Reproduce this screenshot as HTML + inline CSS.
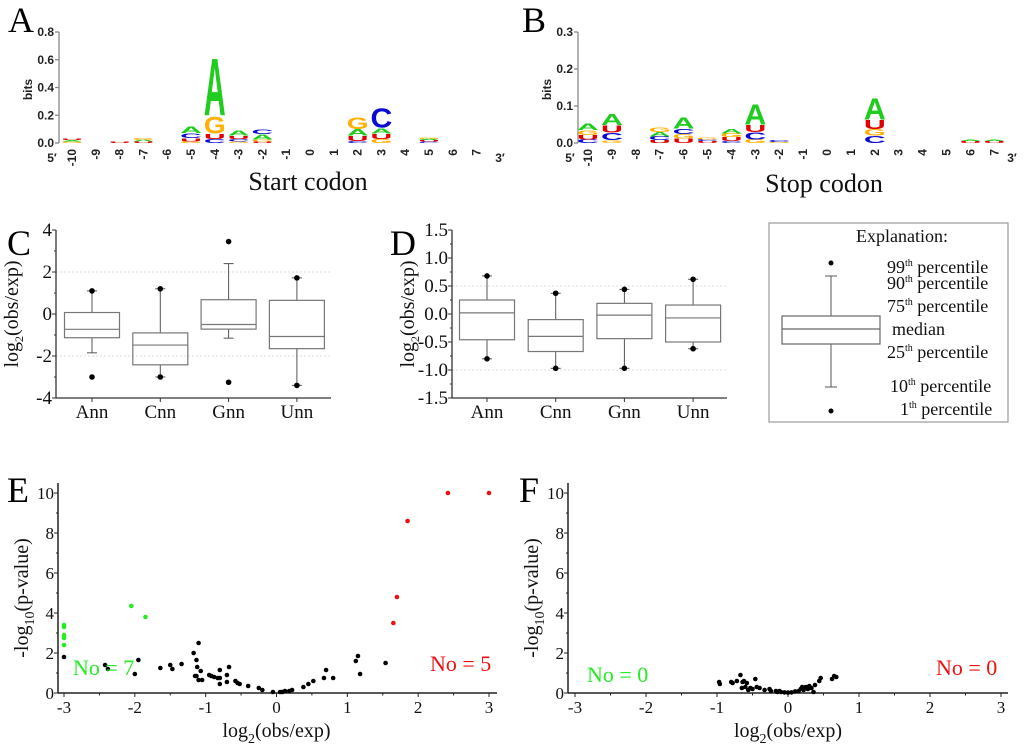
<!DOCTYPE html>
<html><head><meta charset="utf-8"><style>
html,body{margin:0;padding:0;background:#fff;}
svg{display:block;}
.serif{font-family:"Liberation Serif",serif;}
.sans{font-family:"Liberation Sans",sans-serif;}
</style></head><body>
<svg id="fig" xmlns="http://www.w3.org/2000/svg" width="1024" height="756" viewBox="0 0 1024 756"></svg>
<script>
// ---------- DATA ----------
const logoPositions = [-10,-9,-8,-7,-6,-5,-4,-3,-2,-1,0,1,2,3,4,5,6,7];
const startStacks = {
  "-10":[["G",0.01],["A",0.01],["U",0.008]],
  "-8":[["U",0.008]],
  "-7":[["U",0.01],["A",0.012],["G",0.012]],
  "-5":[["G",0.012],["U",0.025],["C",0.035],["A",0.045]],
  "-4":[["C",0.03],["U",0.04],["G",0.13],["A",0.42]],
  "-3":[["G",0.01],["C",0.02],["U",0.025],["A",0.04]],
  "-2":[["U",0.01],["G",0.015],["A",0.04],["C",0.035]],
  "2":[["C",0.015],["U",0.04],["A",0.045],["G",0.09]],
  "3":[["G",0.03],["U",0.04],["A",0.04],["C",0.15]],
  "5":[["C",0.01],["U",0.01],["A",0.01],["G",0.01]]
};
const stopStacks = {
  "-10":[["C",0.01],["U",0.012],["G",0.013],["A",0.018]],
  "-9":[["G",0.008],["C",0.02],["U",0.02],["A",0.03]],
  "-7":[["U",0.008],["C",0.01],["A",0.012],["G",0.012]],
  "-6":[["U",0.012],["G",0.012],["C",0.015],["A",0.03]],
  "-5":[["U",0.005],["C",0.005],["G",0.005]],
  "-4":[["C",0.006],["U",0.01],["G",0.01],["A",0.012]],
  "-3":[["G",0.01],["C",0.02],["U",0.02],["A",0.055]],
  "-2":[["G",0.003],["C",0.005]],
  "2":[["C",0.02],["G",0.018],["U",0.025],["A",0.06]],
  "6":[["U",0.005],["A",0.004]],
  "7":[["U",0.005],["A",0.004]]
};
const startTicks = [0.0,0.2,0.4,0.6,0.8];
const stopTicks = [0.0,0.1,0.2,0.3];

const boxCategories = ["Ann","Cnn","Gnn","Unn"];
// [p1, p10, q1, median, q3, p90, p99]
const boxC = [
  [-3.0,-1.85,-1.13,-0.73,0.07,1.1,1.1],
  [-3.0,-3.0,-2.42,-1.48,-0.9,1.2,1.2],
  [-3.25,-1.15,-0.72,-0.5,0.68,2.4,3.45],
  [-3.4,-3.4,-1.65,-1.07,0.65,1.72,1.72]
];
const boxD = [
  [-0.8,-0.8,-0.46,0.02,0.25,0.68,0.68],
  [-0.97,-0.97,-0.67,-0.4,-0.1,0.37,0.37],
  [-0.97,-0.97,-0.44,-0.02,0.19,0.44,0.44],
  [-0.62,-0.62,-0.5,-0.07,0.16,0.62,0.62]
];
const ticksC = [-4,-2,0,2,4];
const ticksD = [-1.5,-1.0,-0.5,0.0,0.5,1.0,1.5];

const eGreenX=[-3,-3,-3,-3,-3,-2.05,-1.85];
const eGreenY=[3.4,3.3,2.9,2.75,2.4,4.35,3.8];
const eRedX=[1.65,1.7,1.85,2.42,3];
const eRedY=[3.5,4.8,8.6,10,10];
const eBlackX=[-3,-2.42,-2.38,-2.0,-1.95,-1.64,-1.5,-1.47,-1.34,-1.17,-1.15,-1.13,-1.13,-1.12,-1.1,-1.1,-1.07,-1.05,-0.95,-0.92,-0.88,-0.83,-0.8,-0.8,-0.8,-0.7,-0.7,-0.67,-0.58,-0.55,-0.52,-0.4,-0.25,-0.2,-0.05,0.05,0.08,0.12,0.18,0.22,0.38,0.45,0.52,0.67,0.7,0.8,1.12,1.15,1.18,1.54];
const eBlackY=[1.8,1.4,1.2,0.95,1.65,1.25,1.4,1.2,1.45,2.0,0.85,0.85,1.65,1.3,2.5,0.65,1.1,0.65,0.9,0.85,0.8,0.75,1.15,0.75,0.45,0.55,0.9,1.3,0.6,0.5,0.45,0.35,0.25,0.15,0.05,0.05,0.05,0.1,0.1,0.15,0.3,0.45,0.6,0.75,1.15,0.75,1.6,1.85,0.95,1.5];
const fBlackX=[-0.97,-0.96,-0.8,-0.78,-0.72,-0.67,-0.65,-0.64,-0.62,-0.6,-0.58,-0.56,-0.53,-0.5,-0.46,-0.44,-0.4,-0.33,-0.26,-0.24,-0.17,-0.15,-0.12,-0.1,-0.05,0,0.05,0.1,0.15,0.18,0.2,0.22,0.25,0.28,0.3,0.33,0.36,0.38,0.44,0.46,0.62,0.65,0.68];
const fBlackY=[0.55,0.45,0.55,0.5,0.6,0.9,0.25,0.55,0.6,0.3,0.5,0.15,0.25,0.2,0.7,0.3,0.25,0.15,0.2,0.1,0.1,0.05,0.1,0.05,0.03,0.02,0.03,0.08,0.1,0.2,0.3,0.15,0.3,0.2,0.35,0.25,0.05,0.4,0.6,0.75,0.7,0.85,0.8];
const scatXTicks=[-3,-2,-1,0,1,2,3];
const scatYTicks=[0,2,4,6,8,10];

// ---------- HELPERS ----------
const NS="http://www.w3.org/2000/svg";
const svg=document.getElementById('fig');
function mk(tag,attrs,parent){const e=document.createElementNS(NS,tag);for(const k in attrs)e.setAttribute(k,attrs[k]);(parent||svg).appendChild(e);return e;}
function txt(s,attrs,parent){const e=mk('text',attrs,parent);e.textContent=s;return e;}
const colors={A:"#1fcc1f",C:"#0a0ad0",G:"#ffb000",U:"#e00000"};
const adv={A:72.2,C:72.2,G:77.8,U:72.2};
const capH={A:71.6,C:74,G:74,U:72.5};

function logo(name,x0,step,y0,pxPerBit,stacks,ticks,axisX,axisTopY,lbl5x,lbl3x){
  const g=mk('g',{});
  
  
  const xs=p=>x0+(p-logoPositions[0])*step;
  const ys=b=>y0-b*pxPerBit;
  const ax=mk('line',{x1:axisX,y1:ys(ticks[ticks.length-1]),x2:axisX,y2:y0,stroke:"#888","stroke-width":1.3},g);
  
  
  ticks.forEach(t=>{
    mk('line',{x1:axisX-4,y1:ys(t),x2:axisX,y2:ys(t),stroke:"#888","stroke-width":1.3},g);
    const tl=txt(t.toFixed(1),{x:axisX-5,y:ys(t)+4,"text-anchor":"end","font-size":12,"font-weight":"bold",class:"sans",fill:"#222"},g);
    
    
  });
  logoPositions.forEach(p=>{
    const x=xs(p);
    const t=txt(String(p),{transform:`translate(${x+4},149) rotate(-90)`,"text-anchor":"end","font-size":12,"font-weight":"bold",class:"sans",fill:"#222"},g);
    
    
    const st=stacks[String(p)];
    if(!st)return;
    let cum=0;
    st.forEach(([ch,b])=>{
      const yb=ys(cum), h=b*pxPerBit, w=step-2;
      cum+=b;
      const l=txt(ch,{transform:`translate(${x},${yb}) scale(${w/adv[ch]},${h/capH[ch]})`,"text-anchor":"middle","font-size":100,"font-weight":"bold",class:"sans",fill:colors[ch]},g);
      
      
    });
  });
  txt("5\u2032",{x:lbl5x,y:162,"text-anchor":"middle","font-size":12,"font-weight":"bold",class:"sans",fill:"#222"},g);
  txt("3\u2032",{x:lbl3x,y:162,"text-anchor":"middle","font-size":12,"font-weight":"bold",class:"sans",fill:"#222"},g);
  const bl=txt("bits",{transform:`translate(${axisX-27},${(y0+axisTopY)/2+2}) rotate(-90)`,"text-anchor":"middle","font-size":12,"font-weight":"bold",class:"sans",fill:"#222"},g);
  
  
}

function boxplot(name,axisX,axisEndX,yTop,yBot,vmin,vmax,ticks,cat0,catStep,data,grids,fmt){
  const g=mk('g',{});
  
  
  const ys=v=>yBot-(v-vmin)/(vmax-vmin)*(yBot-yTop);
  grids.forEach(v=>mk('line',{x1:axisX,y1:ys(v),x2:axisEndX,y2:ys(v),stroke:"#ddd","stroke-dasharray":"2,2","stroke-width":1},g));
  mk('line',{x1:axisX,y1:yTop,x2:axisX,y2:yBot,stroke:"#333","stroke-width":1.3},g);
  mk('line',{x1:axisX,y1:yBot,x2:axisEndX,y2:yBot,stroke:"#333","stroke-width":1.3},g);
  ticks.forEach((t,i)=>{
    mk('line',{x1:axisX-4,y1:ys(t),x2:axisX,y2:ys(t),stroke:"#333"},g);
    if(i<ticks.length-1){const m=(t+ticks[i+1])/2;mk('line',{x1:axisX-2,y1:ys(m),x2:axisX,y2:ys(m),stroke:"#333"},g);}
    const tl=txt(fmt(t),{x:axisX-4,y:ys(t)+6,"text-anchor":"end","font-size":19,class:"serif",fill:"#111"},g);
    
    
  });
  const bw=55;
  data.forEach((d,i)=>{
    const cx=cat0+i*catStep;
    mk('line',{x1:cx,y1:yBot,x2:cx,y2:yBot+4,stroke:"#333"},g);
    const cl=txt(boxCategories[i],{x:cx,y:yBot+20,"text-anchor":"middle","font-size":19,class:"serif",fill:"#111"},g);
    
    
    const bg=mk('g',{},g);
    
    
    mk('line',{x1:cx,y1:ys(d[5]),x2:cx,y2:ys(d[4]),stroke:"#555"},bg);
    mk('line',{x1:cx,y1:ys(d[2]),x2:cx,y2:ys(d[1]),stroke:"#555"},bg);
    mk('line',{x1:cx-5,y1:ys(d[5]),x2:cx+5,y2:ys(d[5]),stroke:"#555"},bg);
    mk('line',{x1:cx-5,y1:ys(d[1]),x2:cx+5,y2:ys(d[1]),stroke:"#555"},bg);
    mk('rect',{x:cx-bw/2,y:ys(d[4]),width:bw,height:ys(d[2])-ys(d[4]),fill:"none",stroke:"#777","stroke-width":1.2},bg);
    mk('line',{x1:cx-bw/2,y1:ys(d[3]),x2:cx+bw/2,y2:ys(d[3]),stroke:"#777","stroke-width":1.2},bg);
    mk('circle',{cx:cx,cy:ys(d[0]),r:2.8,fill:"#000"},bg);
    mk('circle',{cx:cx,cy:ys(d[6]),r:2.8,fill:"#000"},bg);
  });
  const yl=txt("",{transform:`translate(${axisX-38},${(yTop+yBot)/2}) rotate(-90)`,"text-anchor":"middle","font-size":20,class:"serif",fill:"#111"},g);
  yl.innerHTML='log<tspan font-size="12" dy="5">2</tspan><tspan dy="-5">(obs/exp)</tspan>';
  
  
}

function scatter(name,axisX,xm3,xp3,axisEndX,y0,y10,series){
  const g=mk('g',{});
  
  
  const xs=v=>xm3+(v+3)/6*(xp3-xm3);
  const ys=v=>y0-v/10*(y0-y10);
  mk('line',{x1:axisX,y1:483,x2:axisX,y2:y0,stroke:"#222","stroke-width":1.5},g);
  mk('line',{x1:axisX,y1:y0,x2:axisEndX,y2:y0,stroke:"#222","stroke-width":1.5},g);
  scatYTicks.forEach((t,i)=>{
    mk('line',{x1:axisX-4,y1:ys(t),x2:axisX,y2:ys(t),stroke:"#222"},g);
    if(i<scatYTicks.length-1)mk('line',{x1:axisX-2,y1:ys(t+1),x2:axisX,y2:ys(t+1),stroke:"#222"},g);
    const tl=txt(String(t),{x:axisX-4,y:ys(t)+6,"text-anchor":"end","font-size":17,class:"serif",fill:"#111"},g);
    
    
  });
  scatXTicks.forEach((t,i)=>{
    mk('line',{x1:xs(t),y1:y0,x2:xs(t),y2:y0+4,stroke:"#222"},g);
    if(i<scatXTicks.length-1)mk('line',{x1:xs(t+0.5),y1:y0,x2:xs(t+0.5),y2:y0+2.5,stroke:"#222"},g);
    const tl=txt(String(t),{x:xs(t),y:y0+20,"text-anchor":"middle","font-size":17,class:"serif",fill:"#111"},g);
    
    
  });
  series.forEach(([X,Y,col,sname])=>{
    const sg=mk('g',{},g);
    
    
    X.forEach((x,i)=>{
      const c=mk('circle',{cx:xs(x),cy:ys(Y[i]),r:2.3,fill:col},sg);
      
      
    });
  });
  const xl=txt("",{x:(xm3+xp3)/2,y:737,"text-anchor":"middle","font-size":20,class:"serif",fill:"#111"},g);
  xl.innerHTML='log<tspan font-size="14" dy="6">2</tspan><tspan dy="-6">(obs/exp)</tspan>';
  
  
  const yl=txt("",{transform:`translate(${axisX-30},${(y0+483)/2+10}) rotate(-90)`,"text-anchor":"middle","font-size":20,class:"serif",fill:"#111"},g);
  yl.innerHTML='-log<tspan font-size="14" dy="6">10</tspan><tspan dy="-6">(p-value)</tspan>';
  
  
}

// ---------- BUILD ----------
function panelLabel(s,x,y){const t=txt(s,{x:x,y:y,"font-size":36,class:"serif",fill:"#000"});}

logo('start-codon-logo',72,23.8,143,138.75,startStacks,startTicks,59,32,52,500);
logo('stop-codon-logo',588,23.9,143,370,stopStacks,stopTicks,578,32,570,1012);
panelLabel("A",8,32);panelLabel("B",522,32);
let t1=txt("Start codon",{x:308,y:190,"text-anchor":"middle","font-size":26,class:"serif",fill:"#111"});

let t2=txt("Stop codon",{x:824,y:192,"text-anchor":"middle","font-size":26,class:"serif",fill:"#111"});


panelLabel("C",7,255);panelLabel("D",390,255);
boxplot('boxplot-c',56,331,230,398,-4,4,ticksC,92,68.3,boxC,[2,-2],t=>String(t));
boxplot('boxplot-d',452,727,230,398,-1.5,1.5,ticksD,487,68.7,boxD,[0.5,-1.0],t=>t.toFixed(1));

(function(){
  const g=mk('g',{});
  
  
  mk('rect',{x:769,y:223,width:239,height:199,fill:"#fff",stroke:"#999","stroke-width":1.2},g);
  txt("Explanation:",{x:902,y:242,"text-anchor":"middle","font-size":18,class:"serif",fill:"#111"},g);
  mk('line',{x1:831,y1:276,x2:831,y2:316,stroke:"#555"},g);
  mk('line',{x1:831,y1:344,x2:831,y2:387,stroke:"#555"},g);
  mk('line',{x1:825,y1:276,x2:837,y2:276,stroke:"#555"},g);
  mk('line',{x1:825,y1:387,x2:837,y2:387,stroke:"#555"},g);
  mk('rect',{x:782,y:316,width:98,height:28,fill:"none",stroke:"#666","stroke-width":1.2},g);
  mk('line',{x1:782,y1:329,x2:880,y2:329,stroke:"#666","stroke-width":1.2},g);
  mk('circle',{cx:831,cy:263,r:2.5,fill:"#000"},g);
  mk('circle',{cx:831,cy:411,r:2.5,fill:"#000"},g);
  const rows=[["99","th"," percentile",887,273],["90","th"," percentile",887,289],["75","th"," percentile",887,312],["median","","",892,335],["25","th"," percentile",887,358],["10","th"," percentile",890,392],["1","th"," percentile",900,415]];
  rows.forEach(r=>{
    const t=txt("",{x:r[3],y:r[4],"font-size":18,class:"serif",fill:"#111"},g);
    t.innerHTML=r[1]?`${r[0]}<tspan font-size="10" dy="-7">${r[1]}</tspan><tspan dy="7">${r[2]}</tspan>`:r[0];
    
    
  });
})();

panelLabel("E",7,502);panelLabel("F",519,502);
scatter('volcano-e',58,64,489,497,693,493,[[eBlackX,eBlackY,"#000","non-significant-points"],[eGreenX,eGreenY,"#22ee22","depleted-points"],[eRedX,eRedY,"#ee1111","enriched-points"]]);
scatter('volcano-f',568,575,1001,1008,693,493,[[fBlackX,fBlackY,"#000","non-significant-points"]]);
function note(s,x,y,c,n){const t=txt(s,{x:x,y:y,"font-size":22,class:"serif",fill:c});}
note("No = 7",73,675,"#22ee22","depleted-count-e");
note("No = 5",430,671,"#ee1111","enriched-count-e");
note("No = 0",587,682,"#22ee22","depleted-count-f");
note("No = 0",936,675,"#ee1111","enriched-count-f");
</script>
</body></html>
